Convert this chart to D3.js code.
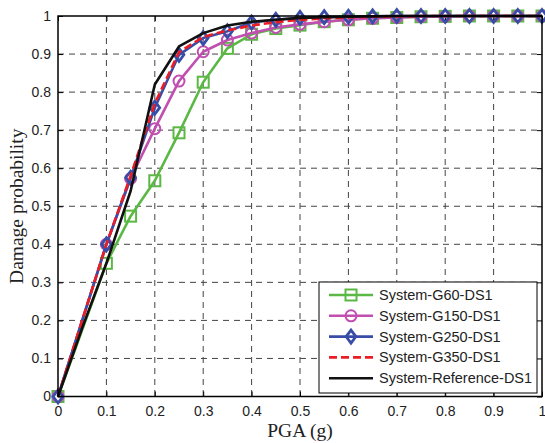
<!DOCTYPE html>
<html>
<head>
<meta charset="utf-8">
<script src="https://cdn.jsdelivr.net/npm/d3@7"></script>
<style>
  html, body { margin: 0; padding: 0; background: #fff; }
  svg { display: block; }
</style>
</head>
<body>
<svg id="chart" width="545" height="443"></svg>
<script>
// PGA levels (g) at which the fragility points were evaluated
const pgaMarked = [0, 0.1, 0.15, 0.2, 0.25, 0.3, 0.35, 0.4, 0.45, 0.5, 0.55, 0.6, 0.65, 0.7, 0.75, 0.8, 0.85, 0.9, 0.95, 1.0];
const pgaReference = [0, 0.05, 0.1, 0.15, 0.2, 0.25, 0.3, 0.35, 0.4, 0.45, 0.5, 0.55, 0.6, 0.65, 0.7, 0.75, 0.8, 0.85, 0.9, 0.95, 1.0];

// Damage probabilities, damage state DS1
const probG60  = [0, 0.35, 0.474, 0.567, 0.693, 0.826, 0.915, 0.952, 0.967, 0.976, 0.985, 0.99, 0.994, 0.996, 0.998, 0.999, 1, 1, 1, 1];
const probG150 = [0, 0.40, 0.573, 0.704, 0.829, 0.906, 0.937, 0.955, 0.97, 0.978, 0.985, 0.99, 0.994, 0.996, 0.998, 0.999, 1, 1, 1, 1];
const probG250 = [0, 0.40, 0.575, 0.759, 0.898, 0.942, 0.96, 0.983, 0.99, 0.995, 0.997, 0.998, 0.999, 1, 1, 1, 1, 1, 1, 1];
const probG350 = [0, 0.40, 0.58, 0.77, 0.905, 0.945, 0.962, 0.975, 0.984, 0.99, 0.994, 0.996, 0.998, 0.999, 1, 1, 1, 1, 1, 1];
const probRef  = [0, 0.18, 0.35, 0.54, 0.82, 0.92, 0.955, 0.975, 0.985, 0.99, 0.995, 0.997, 0.998, 0.999, 1, 1, 1, 1, 1, 1, 1];

const seriesNames = ["System-G60-DS1", "System-G150-DS1", "System-G250-DS1", "System-G350-DS1", "System-Reference-DS1"];
const xTicks = [0, 0.1, 0.2, 0.3, 0.4, 0.5, 0.6, 0.7, 0.8, 0.9, 1];
const yTicks = [0, 0.1, 0.2, 0.3, 0.4, 0.5, 0.6, 0.7, 0.8, 0.9, 1];
const xTickLabels = ["0", "0.1", "0.2", "0.3", "0.4", "0.5", "0.6", "0.7", "0.8", "0.9", "1"];
const yTickLabels = ["0", "0.1", "0.2", "0.3", "0.4", "0.5", "0.6", "0.7", "0.8", "0.9", "1"];

const series = [
  { name: seriesNames[0], x: pgaMarked, y: probG60,  color: "#5cb844", marker: "square", dash: null },
  { name: seriesNames[1], x: pgaMarked, y: probG150, color: "#c04fb0", marker: "circle", dash: null },
  { name: seriesNames[2], x: pgaMarked, y: probG250, color: "#3a4da6", marker: "diamond", dash: null },
  { name: seriesNames[3], x: pgaMarked, y: probG350, color: "#ec1c24", marker: null, dash: "8,4" },
  { name: seriesNames[4], x: pgaReference, y: probRef, color: "#111111", marker: null, dash: null }
];

const svg = d3.select("#chart");
const plot = { left: 58, right: 542, top: 16, bottom: 396.5 };

const x = d3.scaleLinear().domain([0, 1]).range([plot.left, plot.right]);
const y = d3.scaleLinear().domain([0, 1]).range([plot.bottom, plot.top]);

// dashed grid
const grid = svg.append("g");
grid.selectAll(".gx").data(xTicks.slice(1, -1)).enter().append("line")
  .attr("x1", d => x(d)).attr("x2", d => x(d))
  .attr("y1", plot.top).attr("y2", plot.bottom)
  .attr("stroke", "#444").attr("stroke-width", 1).attr("stroke-dasharray", "6,5");
grid.selectAll(".gy").data(yTicks.slice(1, -1)).enter().append("line")
  .attr("x1", plot.left).attr("x2", plot.right)
  .attr("y1", d => y(d)).attr("y2", d => y(d))
  .attr("stroke", "#444").attr("stroke-width", 1).attr("stroke-dasharray", "6,5");

// axes with inward ticks on all four sides
const tickLen = 5;
const fmtX = (d, i) => xTickLabels[i];
const fmtY = (d, i) => yTickLabels[i];
const axisFont = "Liberation Sans, Arial, sans-serif";

const xAxis = svg.append("g").attr("transform", `translate(0,${plot.bottom})`)
  .call(d3.axisBottom(x).tickValues(xTicks).tickFormat(fmtX).tickSizeInner(-tickLen).tickSizeOuter(0).tickPadding(10));
const xAxisTop = svg.append("g").attr("transform", `translate(0,${plot.top})`)
  .call(d3.axisTop(x).tickValues(xTicks).tickFormat("").tickSizeInner(-tickLen).tickSizeOuter(0));
const yAxis = svg.append("g").attr("transform", `translate(${plot.left},0)`)
  .call(d3.axisLeft(y).tickValues(yTicks).tickFormat(fmtY).tickSizeInner(-tickLen).tickSizeOuter(0).tickPadding(10));
const yAxisRight = svg.append("g").attr("transform", `translate(${plot.right},0)`)
  .call(d3.axisRight(y).tickValues(yTicks).tickFormat("").tickSizeInner(-tickLen).tickSizeOuter(0));

[xAxis, xAxisTop, yAxis, yAxisRight].forEach(g => {
  g.select(".domain").remove();
  g.selectAll(".tick line").attr("stroke", "#000").attr("stroke-width", 1);
  g.selectAll("text").attr("font-family", axisFont).attr("font-size", 14).attr("fill", "#222");
});
yAxis.selectAll("text").attr("dx", 3);

// series lines and markers
const lineGen = d3.line().x(d => x(d[0])).y(d => y(d[1]));
const drawMarker = (g, type, cx, cy, color) => {
  if (type === "square") {
    g.append("rect").attr("x", cx - 5.5).attr("y", cy - 5.5).attr("width", 11).attr("height", 11)
      .attr("fill", "none").attr("stroke", color).attr("stroke-width", 2);
  } else if (type === "circle") {
    g.append("circle").attr("cx", cx).attr("cy", cy).attr("r", 5.5)
      .attr("fill", "none").attr("stroke", color).attr("stroke-width", 2);
  } else if (type === "diamond") {
    const s = 6.5;
    g.append("path").attr("d", `M${cx},${cy - s}L${cx + s * 0.75},${cy}L${cx},${cy + s}L${cx - s * 0.75},${cy}Z`)
      .attr("fill", "none").attr("stroke", color).attr("stroke-width", 2.8);
  }
};

const marks = svg.append("g");
series.forEach(s => {
  const pts = s.x.map((v, i) => [v, s.y[i]]);
  const g = marks.append("g");
  g.append("path").attr("d", lineGen(pts)).attr("fill", "none")
    .attr("stroke", s.color).attr("stroke-width", 2.6)
    .attr("stroke-dasharray", s.dash).attr("stroke-linejoin", "round");
  if (s.marker) pts.forEach(p => drawMarker(g, s.marker, x(p[0]), y(p[1]), s.color));
});

// frame
svg.append("rect").attr("x", plot.left).attr("y", plot.top)
  .attr("width", plot.right - plot.left).attr("height", plot.bottom - plot.top)
  .attr("fill", "none").attr("stroke", "#000").attr("stroke-width", 1.5);

// legend
const leg = { x: 319, y: 282, w: 218, h: 111 };
const lg = svg.append("g");
lg.append("rect").attr("x", leg.x).attr("y", leg.y).attr("width", leg.w).attr("height", leg.h)
  .attr("fill", "#fff").attr("stroke", "#000").attr("stroke-width", 1);
series.forEach((s, i) => {
  const cy = 295 + i * 20.8;
  const g = lg.append("g");
  g.append("line").attr("x1", 329).attr("x2", 373).attr("y1", cy).attr("y2", cy)
    .attr("stroke", s.color).attr("stroke-width", 2.6).attr("stroke-dasharray", s.dash);
  if (s.marker) drawMarker(g, s.marker, 351, cy, s.color);
  g.append("text").attr("x", 379).attr("y", cy + 5)
    .attr("font-family", axisFont).attr("font-size", 14.5).attr("fill", "#222").text(s.name);
});

// axis titles
svg.append("text").attr("x", x(0.5)).attr("y", 437).attr("text-anchor", "middle")
  .attr("font-family", "Liberation Serif, Times New Roman, serif").attr("font-size", 19.5).attr("fill", "#222")
  .text("PGA (g)");
svg.append("text").attr("transform", `translate(23,${(plot.top + plot.bottom) / 2}) rotate(-90)`)
  .attr("text-anchor", "middle")
  .attr("font-family", "Liberation Serif, Times New Roman, serif").attr("font-size", 19.5).attr("fill", "#222")
  .text("Damage probability");
</script>
</body>
</html>
